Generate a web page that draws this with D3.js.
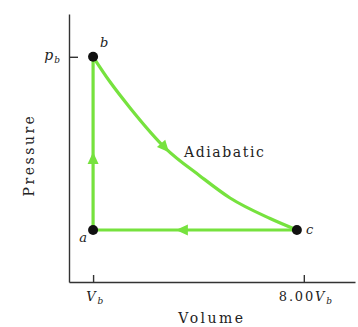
<!DOCTYPE html>
<html>
<head>
<meta charset="utf-8">
<script src="https://cdn.jsdelivr.net/npm/d3@7"></script>
<style>
body { margin: 0; background: #fff; }
text { font-family: "DejaVu Serif", "Liberation Serif", serif; fill: #222; }
</style>
</head>
<body>
<div id="chart"></div>
<script>
// states of the cycle (volume in V_b, pressure in p_b)
var point_names = ['a', 'b', 'c'];
var point_v = [1, 1, 7.77];
var point_p = [0.231, 1, 0.231];

// adiabatic b -> c
var curve_v = [1, 1.56, 2.23, 3.39, 4.55, 5.55, 6.88, 7.77];
var curve_p = [1, 0.889, 0.773, 0.596, 0.471, 0.373, 0.282, 0.231];

// arrows: a->b, on the adiabat, c->a
var arrow_v = [1, 3.39, 3.95];
var arrow_p = [0.551, 0.596, 0.231];

var x_ticks = [1, 8];
var x_tick_labels = [['', 'V', 'b'], ['8.00', 'V', 'b']];
var y_ticks = [1];
var y_tick_labels = [['', 'p', 'b']];

var chart_width = 358;
var chart_height = 327;
var green = '#76e23e';

var svg = d3.select('#chart')
    .append('svg')
    .attr('width', chart_width)
    .attr('height', chart_height);

var scale_x = d3.scaleLinear()
    .domain([0.2, 9.7])
    .range([69, 355]);
var scale_y = d3.scaleLinear()
    .domain([0, 1.19])
    .range([282, 14]);

// axes, ticks point inside
var x_axis = d3.axisBottom(scale_x)
    .tickValues(x_ticks)
    .tickSizeInner(-7)
    .tickSizeOuter(0)
    .tickFormat('');
var y_axis = d3.axisLeft(scale_y)
    .tickValues(y_ticks)
    .tickSizeInner(-9)
    .tickSizeOuter(0)
    .tickFormat('');

var gx = svg.append('g')
    .attr('transform', 'translate(0,' + scale_y(0) + ')')
    .call(x_axis);
var gy = svg.append('g')
    .attr('transform', 'translate(' + scale_x(0.2) + ',0)')
    .call(y_axis);
svg.selectAll('.domain, .tick line')
    .attr('stroke', '#333')
    .attr('stroke-width', 1.4);

// tick labels with subscripts
function tick_label(sel, lbl) {
    sel.append('tspan').text(lbl[0]);
    sel.append('tspan').attr('font-style', 'italic').text(lbl[1]);
    sel.append('tspan').attr('font-size', 9).attr('font-style', 'italic').attr('dy', 3).text(lbl[2]);
}
gx.selectAll('.tick').each(function(d, i) {
    var t = d3.select(this).append('text')
        .attr('y', 19)
        .attr('x', 2)
        .attr('text-anchor', 'middle')
        .attr('font-size', 13)
        .attr('letter-spacing', 1.8);
    tick_label(t, x_tick_labels[i]);
});
gy.selectAll('.tick').each(function(d, i) {
    var t = d3.select(this).append('text')
        .attr('x', -8)
        .attr('y', 3)
        .attr('text-anchor', 'end')
        .attr('font-size', 14)
        .attr('letter-spacing', 1);
    tick_label(t, y_tick_labels[i]);
});

// axis titles
svg.append('text')
    .attr('x', 212)
    .attr('y', 323)
    .attr('text-anchor', 'middle')
    .attr('font-size', 14)
    .attr('letter-spacing', 2.5)
    .text('Volume');
svg.append('text')
    .attr('transform', 'translate(34,155) rotate(-90)')
    .attr('text-anchor', 'middle')
    .attr('font-size', 14)
    .attr('letter-spacing', 2.5)
    .text('Pressure');

// cycle: a -> b (isochoric), b -> c (adiabatic), c -> a (isobaric)
var line = d3.line()
    .x(function(d) { return scale_x(d[0]); })
    .y(function(d) { return scale_y(d[1]); });

var legs = [
    [[point_v[0], point_p[0]], [point_v[1], point_p[1]]],
    d3.zip(curve_v, curve_p),
    [[point_v[2], point_p[2]], [point_v[0], point_p[0]]]
];

svg.selectAll('path.leg')
    .data(legs)
    .enter()
    .append('path')
    .attr('class', 'leg')
    .attr('d', function(d, i) {
        return i == 1 ? line.curve(d3.curveMonotoneX)(d) : line.curve(d3.curveLinear)(d);
    })
    .attr('fill', 'none')
    .attr('stroke', green)
    .attr('stroke-width', 3.2);

// arrow heads, direction taken from the leg they sit on
function arrow_angle(i) {
    var pts = legs[i];
    var k = 0;
    if (i == 1) {
        k = d3.bisectLeft(curve_v, arrow_v[i]) - 1;
        k = Math.max(0, Math.min(pts.length - 2, k));
    }
    var dx = scale_x(pts[k + 1][0]) - scale_x(pts[k][0]);
    var dy = scale_y(pts[k + 1][1]) - scale_y(pts[k][1]);
    return Math.atan2(dy, dx) * 180 / Math.PI;
}

svg.selectAll('path.arrow')
    .data(arrow_v)
    .enter()
    .append('path')
    .attr('class', 'arrow')
    .attr('d', 'M6,0 L-6,-5.5 L-6,5.5 Z')
    .attr('transform', function(d, i) {
        return 'translate(' + scale_x(d) + ',' + scale_y(arrow_p[i]) + ') rotate(' + arrow_angle(i) + ')';
    })
    .attr('fill', green);

// state points
svg.selectAll('circle')
    .data(point_v)
    .enter()
    .append('circle')
    .attr('cx', function(d) { return scale_x(d); })
    .attr('cy', function(d, i) { return scale_y(point_p[i]); })
    .attr('r', 5)
    .attr('fill', '#111');

var label_dx = [-6, 7, 9];
var label_dy = [12, -10, 4];
var label_anchor = ['end', 'start', 'start'];
svg.selectAll('text.state')
    .data(point_names)
    .enter()
    .append('text')
    .attr('class', 'state')
    .attr('x', function(d, i) { return scale_x(point_v[i]) + label_dx[i]; })
    .attr('y', function(d, i) { return scale_y(point_p[i]) + label_dy[i]; })
    .attr('text-anchor', function(d, i) { return label_anchor[i]; })
    .attr('font-size', 13)
    .attr('font-style', 'italic')
    .text(function(d) { return d; });

svg.append('text')
    .attr('x', 184)
    .attr('y', 157)
    .attr('font-size', 14)
    .attr('letter-spacing', 1.6)
    .text('Adiabatic');
</script>
</body>
</html>
